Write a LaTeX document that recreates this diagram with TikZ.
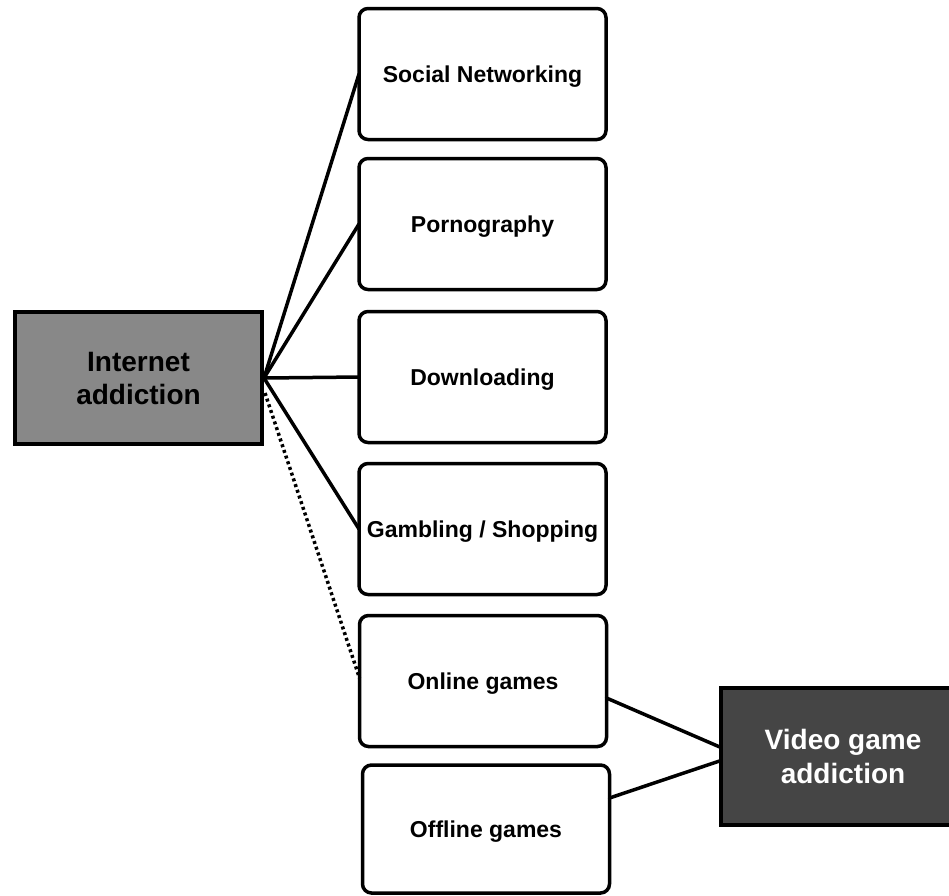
\documentclass[tikz,border=0pt]{standalone}
\usepackage{fontspec}
\setmainfont{Liberation Sans}
\usetikzlibrary{calc}
\begin{document}
\begin{tikzpicture}[x=1pt,y=-1pt,
  catbox/.style={draw=black, line width=3.5pt, rounded corners=9pt, fill=white,
    minimum width=247pt, minimum height=131pt, inner sep=0pt, outer sep=0pt,
    text depth=0pt, font=\fontsize{23}{27}\selectfont\bfseries},
  mainbox/.style={draw=black, line width=3.5pt, inner sep=0pt, outer sep=0pt,
    align=center, font=\fontsize{28}{33}\selectfont\bfseries},
  link/.style={line width=3.5pt, line cap=round},
  dotlink/.style={line width=3.5pt, dash pattern=on 3pt off 3pt}]
\useasboundingbox (0,0) rectangle (949,895);
\clip (0,0) rectangle (949,895);
\node[mainbox, fill={rgb,255:red,136;green,136;blue,136}, minimum width=247pt, minimum height=132pt] (ia) at (138.5,378) {Internet\\addiction};
\node[mainbox, fill={rgb,255:red,69;green,69;blue,69}, text=white, minimum width=244pt, minimum height=137pt, font=\fontsize{28}{34}\selectfont\bfseries] (vg) at (843,756.5) {Video game\\addiction};
\node[catbox] (sn) at (482.5,74) {Social Networking};
\node[catbox] (po) at (482.5,224) {Pornography};
\node[catbox] (dl) at (482.5,377) {Downloading};
\node[catbox] (gs) at (482.5,529) {Gambling / Shopping};
\node[catbox] (og) at (483,681) {Online games};
\node[catbox, minimum height=128pt] (fg) at (486,829) {Offline games};
\coordinate (hub) at ($(ia.east)+(2,0)$);
\draw[link] (hub) -- (sn.west);
\draw[link] (hub) -- (po.west);
\draw[link] (hub) -- (dl.west);
\draw[link] (hub) -- (gs.west);
\draw[dotlink] ($(ia.east)+(3,15)$) -- ($(og.west)+(0,-3)$);
\draw[link] ($(og.east)+(0,17)$) -- ($(vg.west)+(0,-9)$);
\draw[link] ($(fg.east)+(0,-31)$) -- ($(vg.west)+(0,4)$);
\end{tikzpicture}
\end{document}
